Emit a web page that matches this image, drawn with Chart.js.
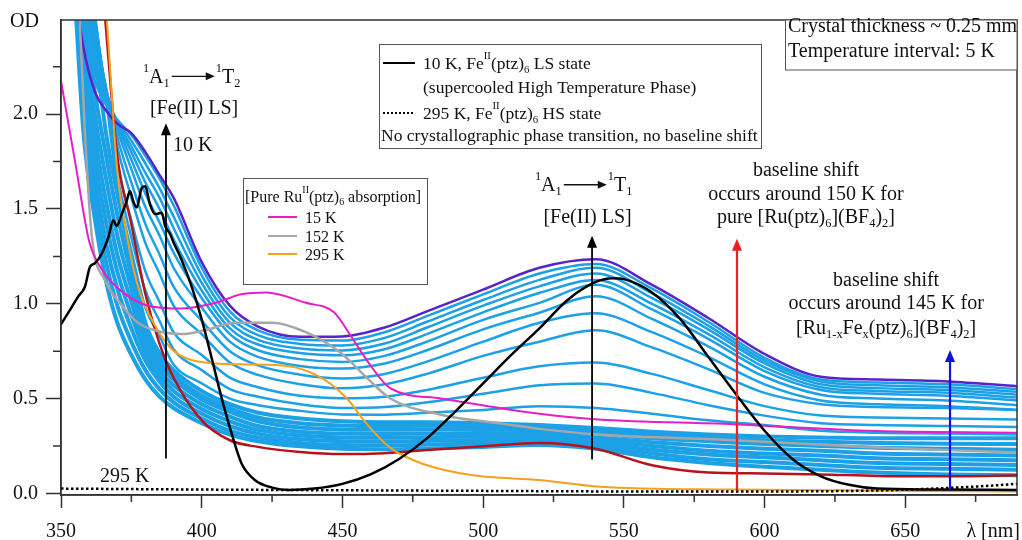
<!DOCTYPE html>
<html>
<head>
<meta charset="utf-8">
<script src="https://cdn.jsdelivr.net/npm/chart.js@4.4.0/dist/chart.umd.min.js"></script>
<style>
  html, body { margin: 0; padding: 0; background: #fff; }
</style>
</head>
<body>
<canvas id="myChart" width="1022" height="540"></canvas>
<script>
// 파장 격자 (파란 온도 스펙트럼 공통)
const blueNm = [355, 358, 362, 366, 370, 375, 380, 385, 390, 400, 410, 420, 435, 450, 465, 480, 500, 520, 540, 560, 580, 600, 620, 640, 665, 690];

// 10 K (가장 위, 보라색) / 295 K (가장 아래, 진한 빨강)
const od10K  = [2.65, 2.35, 2.12, 2.02, 1.95, 1.90, 1.80, 1.68, 1.56, 1.22, 0.99, 0.88, 0.826, 0.828, 0.875, 0.96, 1.075, 1.19, 1.235, 1.10, 0.925, 0.735, 0.615, 0.60, 0.59, 0.565];
const od295K = [4.5, 4.0, 3.2, 2.45, 1.78, 1.42, 1.05, 0.79, 0.61, 0.385, 0.28, 0.245, 0.218, 0.207, 0.212, 0.228, 0.248, 0.265, 0.235, 0.148, 0.11, 0.105, 0.10, 0.092, 0.09, 0.095];

// 중간 온도 스펙트럼 (위에서 아래로)
const mid1  = [2.7, 2.45, 2.18, 2.05, 1.97, 1.89, 1.78, 1.66, 1.52, 1.19, 0.96, 0.86, 0.81, 0.806, 0.85, 0.935, 1.05, 1.16, 1.21, 1.08, 0.905, 0.715, 0.60, 0.585, 0.575, 0.55];
const mid2  = [2.78, 2.52, 2.22, 2.07, 1.97, 1.86, 1.74, 1.61, 1.46, 1.15, 0.93, 0.835, 0.788, 0.78, 0.82, 0.905, 1.02, 1.126, 1.19, 1.055, 0.885, 0.70, 0.59, 0.57, 0.56, 0.535];
const mid3  = [2.86, 2.6, 2.26, 2.08, 1.96, 1.83, 1.69, 1.56, 1.40, 1.11, 0.90, 0.81, 0.764, 0.754, 0.79, 0.875, 0.99, 1.092, 1.16, 1.03, 0.865, 0.685, 0.575, 0.555, 0.545, 0.52];
const mid4  = [2.94, 2.66, 2.30, 2.10, 1.95, 1.80, 1.64, 1.50, 1.34, 1.07, 0.87, 0.785, 0.74, 0.728, 0.76, 0.84, 0.955, 1.057, 1.125, 1.0, 0.84, 0.665, 0.56, 0.54, 0.53, 0.505];
const mid5  = [3.0, 2.72, 2.34, 2.12, 1.94, 1.76, 1.58, 1.43, 1.27, 1.03, 0.84, 0.755, 0.708, 0.693, 0.725, 0.80, 0.915, 1.005, 1.10, 0.97, 0.815, 0.645, 0.545, 0.525, 0.515, 0.49];
const mid6  = [3.1, 2.8, 2.38, 2.13, 1.92, 1.71, 1.51, 1.36, 1.19, 0.98, 0.80, 0.72, 0.672, 0.658, 0.685, 0.755, 0.865, 0.953, 1.04, 0.92, 0.775, 0.615, 0.52, 0.50, 0.49, 0.465];
const mid7  = [3.2, 2.86, 2.42, 2.14, 1.88, 1.64, 1.42, 1.26, 1.09, 0.91, 0.75, 0.675, 0.626, 0.606, 0.63, 0.695, 0.80, 0.90, 0.95, 0.85, 0.72, 0.575, 0.49, 0.47, 0.46, 0.44];
const mid8  = [3.3, 2.92, 2.46, 2.14, 1.83, 1.56, 1.32, 1.16, 0.99, 0.84, 0.69, 0.625, 0.576, 0.554, 0.575, 0.63, 0.725, 0.80, 0.86, 0.77, 0.655, 0.53, 0.47, 0.455, 0.45, 0.44];
const mid9  = [3.4, 3.0, 2.5, 2.12, 1.74, 1.44, 1.17, 1.01, 0.85, 0.73, 0.61, 0.56, 0.515, 0.502, 0.51, 0.545, 0.61, 0.67, 0.69, 0.63, 0.545, 0.46, 0.41, 0.40, 0.395, 0.39];
const mid10 = [3.45, 3.05, 2.52, 2.10, 1.68, 1.35, 1.07, 0.91, 0.76, 0.65, 0.55, 0.51, 0.47, 0.45, 0.455, 0.48, 0.525, 0.57, 0.58, 0.53, 0.465, 0.41, 0.37, 0.36, 0.355, 0.35];
const mid11 = [3.5, 3.1, 2.54, 2.08, 1.62, 1.28, 0.98, 0.83, 0.68, 0.58, 0.50, 0.465, 0.435, 0.416, 0.415, 0.425, 0.44, 0.46, 0.45, 0.42, 0.385, 0.36, 0.33, 0.32, 0.315, 0.31];

// 고온 스펙트럼 묶음 (촘촘한 띠, 아래에서 위로)
const band1 = [2.6, 1.9, 1.45, 1.12, 0.90, 0.73, 0.60, 0.51, 0.45, 0.37, 0.31, 0.275, 0.248, 0.235, 0.233, 0.237, 0.245, 0.255, 0.235, 0.19, 0.16, 0.14, 0.125, 0.11, 0.10, 0.095];
const band2 = [2.75, 2.05, 1.56, 1.22, 0.99, 0.80, 0.65, 0.55, 0.48, 0.395, 0.33, 0.295, 0.266, 0.255, 0.253, 0.257, 0.263, 0.27, 0.25, 0.21, 0.18, 0.165, 0.15, 0.135, 0.13, 0.125];
const band3 = [2.9, 2.15, 1.67, 1.32, 1.08, 0.87, 0.70, 0.59, 0.51, 0.42, 0.355, 0.315, 0.285, 0.275, 0.273, 0.277, 0.282, 0.285, 0.265, 0.23, 0.205, 0.19, 0.175, 0.16, 0.155, 0.15];
const band4 = [3.0, 2.25, 1.78, 1.43, 1.17, 0.94, 0.74, 0.62, 0.54, 0.445, 0.38, 0.335, 0.305, 0.295, 0.293, 0.296, 0.30, 0.30, 0.28, 0.25, 0.225, 0.21, 0.20, 0.185, 0.18, 0.175];
const band5 = [3.1, 2.35, 1.89, 1.54, 1.26, 1.01, 0.78, 0.65, 0.57, 0.47, 0.405, 0.355, 0.325, 0.315, 0.313, 0.315, 0.318, 0.315, 0.295, 0.27, 0.25, 0.235, 0.225, 0.21, 0.205, 0.20];
const band6 = [3.2, 2.45, 2.0, 1.66, 1.36, 1.08, 0.82, 0.68, 0.60, 0.495, 0.43, 0.38, 0.347, 0.337, 0.335, 0.337, 0.338, 0.33, 0.315, 0.29, 0.275, 0.26, 0.25, 0.24, 0.235, 0.23];
const band7 = [3.3, 2.55, 2.12, 1.78, 1.47, 1.15, 0.86, 0.71, 0.625, 0.515, 0.45, 0.40, 0.37, 0.358, 0.355, 0.356, 0.354, 0.345, 0.33, 0.308, 0.293, 0.28, 0.272, 0.265, 0.262, 0.26];
const band8 = [3.4, 2.65, 2.35, 1.90, 1.58, 1.22, 0.90, 0.74, 0.65, 0.54, 0.47, 0.425, 0.395, 0.38, 0.375, 0.375, 0.37, 0.36, 0.345, 0.325, 0.31, 0.30, 0.295, 0.29, 0.29, 0.29];

// Fe(II)(ptz)6 10 K LS 상태 (검은 실선)
const lsNm = [350, 352.6, 356.2, 358.5, 360.3, 362, 364.5, 366.8, 368.6, 369.8, 371.6, 373.3, 374.5, 375.7, 376.9, 378.7, 379.9, 381.6, 383.4, 385.8, 387, 388.7, 389.9, 392.9, 396.4, 400, 403.6, 407.1, 410.7, 414.2, 419, 425, 431, 440, 450, 460, 470, 480, 490, 500, 510, 520, 530, 540, 546, 550, 560, 570, 580, 590, 600, 610, 620, 630, 640, 660, 689.7];
const lsOD = [0.892, 0.953, 1.04, 1.09, 1.195, 1.213, 1.265, 1.35, 1.44, 1.41, 1.473, 1.54, 1.595, 1.54, 1.508, 1.612, 1.62, 1.525, 1.473, 1.48, 1.41, 1.37, 1.326, 1.23, 1.092, 0.918, 0.71, 0.502, 0.312, 0.156, 0.069, 0.03, 0.018, 0.025, 0.05, 0.1, 0.18, 0.29, 0.43, 0.58, 0.73, 0.87, 1.02, 1.115, 1.135, 1.13, 1.06, 0.92, 0.72, 0.52, 0.33, 0.18, 0.09, 0.045, 0.025, 0.02, 0.018];

// 295 K HS 상태 (점선)
const hsNm = [350, 400, 450, 500, 550, 600, 640, 660, 680, 689.7];
const hsOD = [0.025, 0.02, 0.016, 0.013, 0.01, 0.01, 0.015, 0.025, 0.04, 0.05];

// 순수 Ru(II)(ptz)6 흡수
const ru15Nm = [350, 355, 360, 365, 372, 381, 393, 405, 414, 423, 437, 447, 453, 459, 467, 485, 508, 520, 541, 589, 636, 689.7];
const ru15OD = [2.175, 1.75, 1.33, 1.17, 1.06, 0.99, 0.975, 1.005, 1.05, 1.06, 1.005, 0.955, 0.83, 0.695, 0.555, 0.50, 0.445, 0.42, 0.39, 0.365, 0.33, 0.32];
const ru152Nm = [355, 356.5, 358.5, 361, 365.6, 371.7, 377.4, 383.4, 393, 401, 412, 425, 437, 449, 459, 467, 485, 508, 520, 541, 589, 636, 689.7];
const ru152OD = [3.0, 2.55, 1.9, 1.35, 1.125, 0.99, 0.90, 0.86, 0.84, 0.86, 0.90, 0.90, 0.85, 0.745, 0.605, 0.50, 0.415, 0.365, 0.34, 0.31, 0.28, 0.245, 0.215];
const ru295Nm = [364, 366.3, 370, 373.5, 377.4, 383.4, 389.4, 395, 405, 416, 431, 443, 451.6, 458.7, 467, 478.7, 496.5, 520, 541.5, 589, 689.7];
const ru295OD = [2.9, 2.49, 1.70, 1.35, 1.09, 0.885, 0.76, 0.71, 0.685, 0.68, 0.67, 0.605, 0.50, 0.365, 0.24, 0.155, 0.095, 0.07, 0.035, 0.02, 0.01];

// 축 눈금
const minorXTicks = [375, 425, 475, 525, 575, 625, 675];
const minorYTicks = [0.25, 0.75, 1.25, 1.75, 2.25];

const FONT = '"Liberation Serif", "Times New Roman", serif';
const BLUE = '#1ca0e6';

function pts(xs, ys) {
  return xs.map((x, i) => ({ x: x, y: ys[i] }));
}
function line(data, color, width, dash) {
  return {
    data: data,
    borderColor: color,
    borderWidth: width,
    borderDash: dash || [],
    pointRadius: 0,
    fill: false,
    cubicInterpolationMode: 'monotone'
  };
}

// 첫 번째 데이터셋이 가장 위에 그려진다
const datasets = [
  line(pts(lsNm, lsOD), '#000', 2.5),
  line(pts(hsNm, hsOD), '#000', 2.5, [2.5, 2.5]),
  line(pts(ru15Nm, ru15OD), '#e61ec8', 2),
  line(pts(ru152Nm, ru152OD), '#a6a6a6', 2.5),
  line(pts(ru295Nm, ru295OD), '#f2a21f', 2),
  line(pts(blueNm, od295K), '#b3141e', 2.5),
  line(pts(blueNm, od10K), '#5a23c8', 2.5)
];
[mid1, mid2, mid3, mid4, mid5, mid6, mid7, mid8, mid9, mid10, mid11].forEach(s => {
  datasets.push(line(pts(blueNm, s), BLUE, 2.5));
});
[band1, band2, band3, band4, band5, band6, band7, band8].forEach(s => {
  datasets.push(line(pts(blueNm, s), BLUE, 4));
});

// 화살표 (파장, 시작 OD, 끝 OD)
const arrows = [
  { nm: 387.3, from: 0.184, to: 1.952, color: '#000', w: 1.8 },
  { nm: 538.7, from: 0.178, to: 1.359, color: '#000', w: 1.8 },
  { nm: 590.2, from: 0.017, to: 1.343, color: '#f01e1e', w: 2.2 },
  { nm: 665.9, from: 0.017, to: 0.756, color: '#1010e0', w: 2.2 }
];

// 글자 조각: [문자열, 종류]  n=보통, sup=위첨자, sub=아래첨자, arrow=화살표
function richWidth(ctx, parts, size) {
  let w = 0;
  parts.forEach(p => {
    if (p[1] === 'arrow') { w += p[2]; return; }
    const s = p[1] === 'n' ? size : size * 0.62;
    ctx.font = s + 'px ' + FONT;
    w += ctx.measureText(p[0]).width;
  });
  return w;
}
function drawRich(ctx, x, y, parts, size, align) {
  let w = richWidth(ctx, parts, size);
  let cx = align === 'center' ? x - w / 2 : x;
  ctx.fillStyle = '#111';
  ctx.strokeStyle = '#111';
  ctx.textBaseline = 'alphabetic';
  ctx.textAlign = 'left';
  parts.forEach(p => {
    if (p[1] === 'arrow') {
      const len = p[2], ay = y - size * 0.33;
      ctx.lineWidth = 1.3;
      ctx.beginPath(); ctx.moveTo(cx + 2, ay); ctx.lineTo(cx + len - 9, ay); ctx.stroke();
      ctx.beginPath(); ctx.moveTo(cx + len - 1, ay); ctx.lineTo(cx + len - 10, ay - 4); ctx.lineTo(cx + len - 10, ay + 4); ctx.closePath(); ctx.fill();
      cx += len;
      return;
    }
    let s = size, dy = 0;
    if (p[1] === 'sup') { s = size * 0.62; dy = -size * 0.55; }
    if (p[1] === 'sub') { s = size * 0.62; dy = size * 0.2; }
    ctx.font = s + 'px ' + FONT;
    ctx.fillText(p[0], cx, y + dy);
    cx += ctx.measureText(p[0]).width;
  });
}

// 그래프 안 주석 (파장, OD 기준선)
const notes = [
  { nm: 379.1, od: 2.165, align: 'left', parts: [['1', 'sup'], ['A', 'n'], ['1', 'sub'], ['', 'arrow', 46], ['1', 'sup'], ['T', 'n'], ['2', 'sub']] },
  { nm: 397.3, od: 2.0, align: 'center', parts: [['[Fe(II) LS]', 'n']] },
  { nm: 389.8, od: 1.804, align: 'left', parts: [['10 K', 'n']] },
  { nm: 363.9, od: 0.062, align: 'left', parts: [['295 K', 'n']] },
  { nm: 518.4, od: 1.593, align: 'left', parts: [['1', 'sup'], ['A', 'n'], ['1', 'sub'], ['', 'arrow', 46], ['1', 'sup'], ['T', 'n'], ['1', 'sub']] },
  { nm: 537.1, od: 1.424, align: 'center', parts: [['[Fe(II) LS]', 'n']] },
  { nm: 614.7, od: 1.674, align: 'center', parts: [['baseline shift', 'n']] },
  { nm: 614.7, od: 1.549, align: 'center', parts: [['occurs around 150 K for', 'n']] },
  { nm: 614.7, od: 1.424, align: 'center', parts: [['pure [Ru(ptz)', 'n'], ['6', 'sub'], ['](BF', 'n'], ['4', 'sub'], [')', 'n'], ['2', 'sub'], [']', 'n']] },
  { nm: 643.2, od: 1.0915, align: 'center', parts: [['baseline shift', 'n']] },
  { nm: 643.2, od: 0.972, align: 'center', parts: [['occurs around 145 K for', 'n']] },
  { nm: 643.2, od: 0.842, align: 'center', parts: [['[Ru', 'n'], ['1-x', 'sub'], ['Fe', 'n'], ['x', 'sub'], ['(ptz)', 'n'], ['6', 'sub'], ['](BF', 'n'], ['4', 'sub'], [')', 'n'], ['2', 'sub'], [']', 'n']] }
];

const decor = {
  id: 'decor',
  afterDatasetsDraw(chart) {
    const ctx = chart.ctx, a = chart.chartArea;
    const xs = chart.scales.x, ys = chart.scales.y;
    ctx.save();

    // 테두리와 보조 눈금
    ctx.strokeStyle = '#333';
    ctx.lineWidth = 1.5;
    ctx.strokeRect(a.left, a.top, a.right - a.left, a.bottom - a.top);
    ctx.beginPath();
    minorXTicks.forEach(v => {
      const px = xs.getPixelForValue(v);
      ctx.moveTo(px, a.bottom); ctx.lineTo(px, a.bottom + 7);
    });
    minorYTicks.forEach(v => {
      const py = ys.getPixelForValue(v);
      ctx.moveTo(a.left - 8, py); ctx.lineTo(a.left, py);
    });
    ctx.stroke();

    // 화살표
    arrows.forEach(ar => {
      const px = xs.getPixelForValue(ar.nm);
      const y0 = ys.getPixelForValue(ar.from), y1 = ys.getPixelForValue(ar.to);
      ctx.strokeStyle = ar.color; ctx.fillStyle = ar.color; ctx.lineWidth = ar.w;
      ctx.beginPath(); ctx.moveTo(px, y0); ctx.lineTo(px, y1 + 10); ctx.stroke();
      ctx.beginPath(); ctx.moveTo(px, y1); ctx.lineTo(px - 5, y1 + 12); ctx.lineTo(px + 5, y1 + 12); ctx.closePath(); ctx.fill();
    });

    // 주석 글자
    notes.forEach(n => {
      drawRich(ctx, xs.getPixelForValue(n.nm), ys.getPixelForValue(n.od), n.parts, 20, n.align);
    });

    // 축 제목
    ctx.fillStyle = '#111';
    ctx.font = '20px ' + FONT;
    ctx.textAlign = 'left';
    ctx.fillText('OD', 10, 27);
    ctx.textAlign = 'right';
    ctx.fillText('λ [nm]', 1020, 537);

    // 시료 정보 상자
    ctx.fillStyle = '#fff';
    ctx.fillRect(785, a.top, a.right - 785, 50);
    ctx.strokeStyle = '#555'; ctx.lineWidth = 1;
    ctx.strokeRect(785.5, a.top, a.right - 785.5, 50);
    ctx.fillStyle = '#111';
    ctx.textAlign = 'left';
    ctx.fillText('Crystal thickness ~ 0.25 mm', 788, 32);
    ctx.fillText('Temperature interval: 5 K', 788, 57);

    // Fe 범례 상자
    ctx.fillStyle = '#fff';
    ctx.fillRect(379.5, 44.5, 382, 104);
    ctx.strokeStyle = '#555';
    ctx.strokeRect(379.5, 44.5, 382, 104);
    ctx.strokeStyle = '#000'; ctx.lineWidth = 2;
    ctx.beginPath(); ctx.moveTo(383, 63); ctx.lineTo(415, 63); ctx.stroke();
    ctx.setLineDash([2, 2]);
    ctx.beginPath(); ctx.moveTo(383, 113); ctx.lineTo(415, 113); ctx.stroke();
    ctx.setLineDash([]);
    drawRich(ctx, 423, 69, [['10 K, Fe', 'n'], ['II', 'sup'], ['(ptz)', 'n'], ['6', 'sub'], [' LS state', 'n']], 17.5, 'left');
    drawRich(ctx, 423, 93, [['(supercooled High Temperature Phase)', 'n']], 17.5, 'left');
    drawRich(ctx, 423, 119, [['295 K, Fe', 'n'], ['II', 'sup'], ['(ptz)', 'n'], ['6', 'sub'], [' HS state', 'n']], 17.5, 'left');
    drawRich(ctx, 381, 141, [['No crystallographic phase transition, no baseline shift', 'n']], 17.5, 'left');

    // Ru 범례 상자
    ctx.fillStyle = '#fff';
    ctx.fillRect(243.5, 178.5, 184, 106);
    ctx.strokeStyle = '#555'; ctx.lineWidth = 1;
    ctx.strokeRect(243.5, 178.5, 184, 106);
    drawRich(ctx, 245, 202, [['[Pure Ru', 'n'], ['II', 'sup'], ['(ptz)', 'n'], ['6', 'sub'], [' absorption]', 'n']], 16, 'left');
    [['#e61ec8', '15 K', 217], ['#a6a6a6', '152 K', 236], ['#f2a21f', '295 K', 254]].forEach(r => {
      ctx.strokeStyle = r[0]; ctx.lineWidth = 2;
      ctx.beginPath(); ctx.moveTo(268, r[2]); ctx.lineTo(297, r[2]); ctx.stroke();
      drawRich(ctx, 305, r[2] + 5.5, [[r[1], 'n']], 16, 'left');
    });

    ctx.restore();
  }
};

const chart = new Chart(document.getElementById('myChart').getContext('2d'), {
  type: 'line',
  data: { datasets: datasets },
  options: {
    responsive: false,
    animation: false,
    layout: { padding: { top: 13, right: 5, bottom: 0, left: 0 } },
    plugins: { legend: { display: false }, tooltip: { enabled: false } },
    scales: {
      x: {
        type: 'linear',
        min: 350,
        max: 689.7,
        afterFit: s => { s.height = 45; },
        border: { display: true, color: '#333', width: 1.5 },
        grid: { drawOnChartArea: false, tickLength: 13, tickColor: '#333', tickWidth: 1.5 },
        ticks: { stepSize: 50, includeBounds: false, autoSkip: false, maxRotation: 0, padding: 12, color: '#111', font: { family: FONT, size: 20 } }
      },
      y: {
        type: 'linear',
        min: -0.0088,
        max: 2.497,
        afterFit: s => { s.width = 61; },
        border: { display: true, color: '#333', width: 1.5 },
        grid: { drawOnChartArea: false, tickLength: 15, tickColor: '#333', tickWidth: 1.5 },
        ticks: { stepSize: 0.5, includeBounds: false, padding: 8, color: '#111', font: { family: FONT, size: 20 }, callback: v => v.toFixed(1) }
      }
    }
  },
  plugins: [decor]
});
</script>
</body>
</html>
